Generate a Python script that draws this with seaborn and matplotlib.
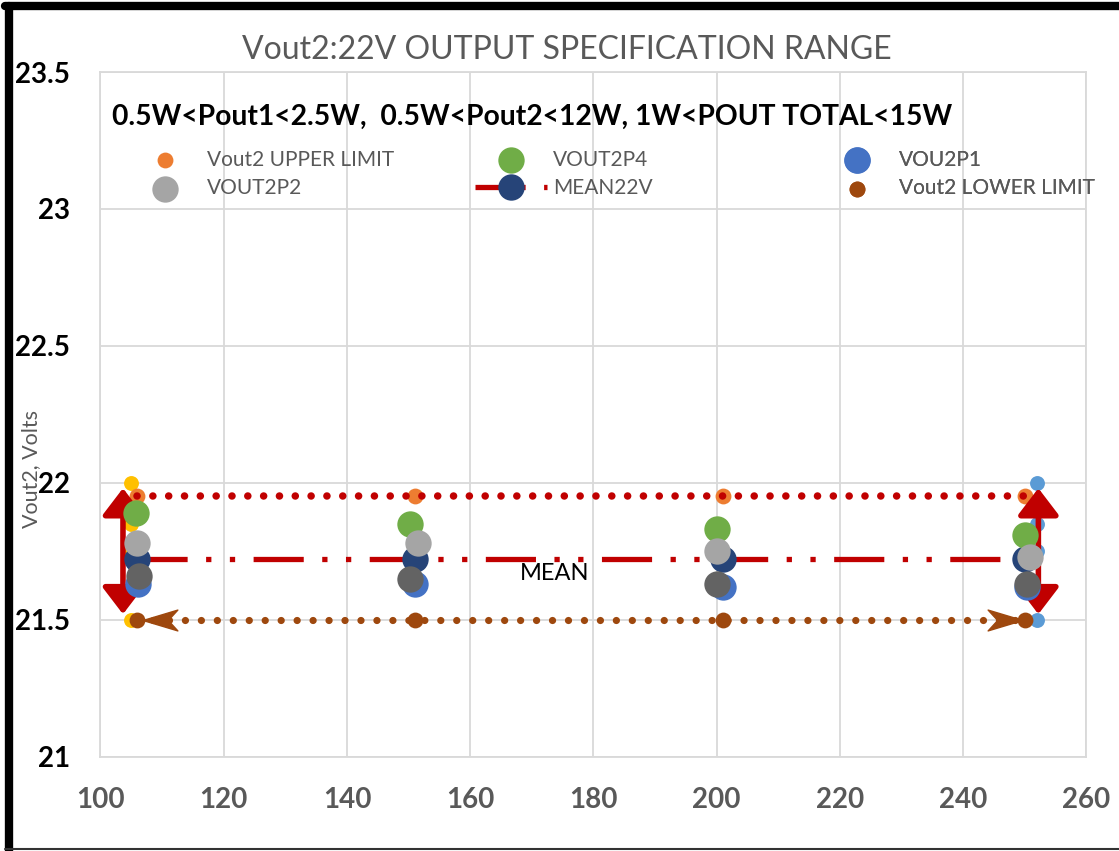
"""Vout2 22V output specification range chart."""
import matplotlib
matplotlib.use("Agg")
import matplotlib.pyplot as plt
import seaborn as sns
from matplotlib.lines import Line2D
from matplotlib.path import Path

# values (x = load point, y = volts)
upper_x = [106, 151, 201, 250]
upper_v = [21.95, 21.95, 21.95, 21.95]
lower_x = [106, 151, 201, 250]
lower_v = [21.5, 21.5, 21.5, 21.5]
mean_x = [106, 151, 201, 250]
mean_v = [21.72, 21.72, 21.72, 21.72]
p4_x = [105.7, 150.2, 200.1, 250.0]
p4_v = [21.89, 21.85, 21.83, 21.81]
p2_x = [106.0, 151.6, 200.0, 250.9]
p2_v = [21.78, 21.78, 21.75, 21.73]
p1_x = [106.1, 151.0, 201.1, 250.4]
p1_v = [21.63, 21.63, 21.62, 21.62]
p3_x = [106.2, 150.3, 200.0, 250.3]
p3_v = [21.66, 21.65, 21.63, 21.63]
# unlabeled reference points at both ends of the range
ref_lo_x = [105, 105, 105, 105]
ref_hi_x = [252, 252, 252, 252]
ref_v = [22.0, 21.85, 21.75, 21.5]

x_ticks = [100, 120, 140, 160, 180, 200, 220, 240, 260]
y_ticks = [21, 21.5, 22, 22.5, 23, 23.5]
y_tick_labels = ["21", "21.5", "22", "22.5", "23", "23.5"]

# office palette
ORANGE = "#ED7D31"
GREEN = "#70AD47"
BLUE = "#4472C4"
LGRAY = "#A5A5A5"
NAVY = "#264478"
DGRAY = "#636363"
YELLOW = "#FFC000"
LBLUE = "#5B9BD5"
BROWN = "#9E480E"
RED = "#C00000"
TXT = "#595959"
GRID = "#D9D9D9"

sns.set_theme(style="whitegrid")
plt.rcParams["font.family"] = ["Lato", "DejaVu Sans"]

fig = plt.figure(figsize=(11.19, 8.51), dpi=100)
ax = fig.add_axes([0.0898, 0.111, 0.8811, 0.8043])
ax.set_facecolor("white")

BIG = 360
SMALL = 130
TINY = 115

sns.scatterplot(x=ref_lo_x, y=ref_v, s=TINY, color=YELLOW, linewidth=0, ax=ax, zorder=2)
sns.scatterplot(x=ref_hi_x, y=ref_v, s=TINY, color=LBLUE, linewidth=0, ax=ax, zorder=2)
sns.scatterplot(x=upper_x, y=upper_v, s=SMALL, color=ORANGE, linewidth=0,
                label="Vout2 UPPER LIMIT", ax=ax, zorder=2.5)
sns.scatterplot(x=lower_x, y=lower_v, s=SMALL, color=BROWN, linewidth=0,
                label="Vout2 LOWER LIMIT", ax=ax, zorder=2.5)

# limit lines (round dots)
sns.lineplot(x=upper_x, y=upper_v, color=RED, lw=5.4, linestyle=(0, (0.01, 2.1)),
             dash_capstyle="round", ax=ax, zorder=2.6)
sns.lineplot(x=lower_x, y=lower_v, color=BROWN, lw=5.2, linestyle=(0, (0.01, 2.2)),
             dash_capstyle="round", ax=ax, zorder=2.6)

sns.scatterplot(x=p1_x, y=p1_v, s=BIG, color=BLUE, linewidth=0, label="VOU2P1", ax=ax, zorder=3)
sns.lineplot(x=mean_x, y=mean_v, color=RED, lw=3.8,
             linestyle=(0, (9.5, 3.5, 1, 3.5, 1, 3.5)),
             marker="o", markersize=19, markerfacecolor=NAVY, markeredgewidth=0,
             label="MEAN22V", ax=ax, zorder=3.2)
sns.scatterplot(x=p4_x, y=p4_v, s=BIG, color=GREEN, linewidth=0, label="VOUT2P4", ax=ax, zorder=4)
sns.scatterplot(x=p2_x, y=p2_v, s=BIG, color=LGRAY, linewidth=0, label="VOUT2P2", ax=ax, zorder=4.2)
sns.scatterplot(x=p3_x, y=p3_v, s=BIG, color=DGRAY, linewidth=0, ax=ax, zorder=4.4)

# vertical spec-range arrows
for ax_x in (103.65, 252.2):
    ax.annotate("", xy=(ax_x, 21.98), xytext=(ax_x, 21.52),
                arrowprops=dict(arrowstyle="<|-|>,head_length=0.55,head_width=0.42",
                                color=RED, lw=4, mutation_scale=30,
                                shrinkA=0, shrinkB=0), zorder=2.8)

# brown stealth arrow heads on the lower limit line
right_head = Path([(1, 0), (-1, 0.6), (-0.45, 0), (-1, -0.6), (1, 0)],
                  [Path.MOVETO, Path.LINETO, Path.LINETO, Path.LINETO, Path.CLOSEPOLY])
left_head = Path([(-1, 0), (1, 0.6), (0.45, 0), (1, -0.6), (-1, 0)],
                 [Path.MOVETO, Path.LINETO, Path.LINETO, Path.LINETO, Path.CLOSEPOLY])
ax.plot([109.7], [21.5], marker=left_head, ms=25, color=BROWN, ls="none", zorder=2.7)
ax.plot([246.85], [21.5], marker=right_head, ms=25, color=BROWN, ls="none", zorder=2.7)

ax.text(173.75, 21.669, "MEAN", ha="center", va="center", fontsize=17, color="black", zorder=5)

ax.set_xlim(100, 260)
ax.set_ylim(21, 23.5)
ax.set_xticks(x_ticks)
ax.set_yticks(y_ticks)
ax.set_yticklabels(y_tick_labels)
ax.grid(True, color=GRID, lw=1.3)
for sp in ax.spines.values():
    sp.set_color(GRID)
    sp.set_linewidth(1.3)
ax.tick_params(axis="y", labelsize=20, pad=22, length=0, labelcolor="black")
ax.tick_params(axis="x", labelsize=20, pad=22, length=0, labelcolor=TXT)
for lab in ax.get_xticklabels() + ax.get_yticklabels():
    lab.set_fontweight("bold")
ax.set_xlabel("")
ax.set_ylabel("")

# legend: three columns of two entries, laid out like the excel legend
old = ax.get_legend()
if old is not None:
    old.remove()
handles, labels = ax.get_legend_handles_labels()
by_label = dict(zip(labels, handles))
columns = [["Vout2 UPPER LIMIT", "VOUT2P2"],
           ["VOUT2P4", "MEAN22V"],
           ["VOU2P1", "Vout2 LOWER LIMIT"]]
col_left_px = [129, 475, 821]
for names, left in zip(columns, col_left_px):
    leg = ax.legend([by_label[n] for n in names], names,
                    loc="center left", bbox_to_anchor=(left / 1119, 1 - 174 / 851),
                    bbox_transform=fig.transFigure, frameon=False, fontsize=15,
                    labelcolor=TXT, handlelength=3.45, handletextpad=0.28,
                    labelspacing=0.42, borderpad=0, borderaxespad=0)
    ax.add_artist(leg)

fig.text(567 / 1119, 1 - 50 / 851, "Vout2:22V OUTPUT SPECIFICATION RANGE",
         ha="center", va="center", fontsize=23, color=TXT)
fig.text(112 / 1119, 1 - 117 / 851, "0.5W<Pout1<2.5W,  0.5W<Pout2<12W, 1W<POUT TOTAL<15W",
         ha="left", va="center", fontsize=20.3, fontweight="bold", color="black")
fig.text(31 / 1119, 1 - 469 / 851, "Vout2, Volts", rotation=90,
         ha="center", va="center", fontsize=15.5, color=TXT)

# outer black frame (left and top heavy, bottom thin)
fig.add_artist(Line2D([9 / 1119, 9 / 1119], [0, 1 - 6 / 851], color="black", lw=6,
                      transform=fig.transFigure))
fig.add_artist(Line2D([5 / 1119, 1], [1 - 6 / 851, 1 - 6 / 851], color="black", lw=6,
                      transform=fig.transFigure))
fig.add_artist(Line2D([5 / 1119, 1], [2.5 / 851, 2.5 / 851], color="#333333", lw=1.5,
                      transform=fig.transFigure))

fig.savefig("out.png", dpi=100)
